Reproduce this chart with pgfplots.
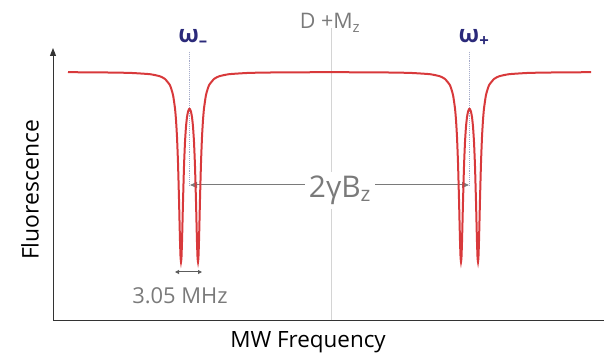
\documentclass[border=0pt]{standalone}
\usepackage{fontspec}
\setmainfont{Open Sans}
\usepackage{pgfplots}
\pgfplotsset{compat=1.18}
\usetikzlibrary{arrows.meta}
\definecolor{curve}{HTML}{D8393B}
\definecolor{txtgray}{HTML}{7A7A7A}
\definecolor{omega}{HTML}{2B2A7A}
\definecolor{dotc}{HTML}{A4AAC8}
\definecolor{cline}{HTML}{D4D4D4}
\definecolor{axc}{HTML}{333333}
\begin{document}
\begin{tikzpicture}
\path[use as bounding box] (0,0) rectangle (604bp,356bp);
\begin{axis}[
  at={(53bp,36bp)}, anchor=south west,
  scale only axis, width=551bp, height=272bp,
  xmin=53, xmax=604, ymin=0, ymax=272,
  axis lines=left, ticks=none, clip=false,
  x axis line style={-, draw=axc, line width=1bp},
  y axis line style={-{Triangle[length=8bp,width=6bp]}, draw=axc, line width=1bp},
]
% centre line D+Mz
\draw[cline, line width=1bp] (axis cs:331,0) -- (axis cs:331,292);
% dotted lines at the centres of the pairs
\draw[dotc, line width=0.9bp, densely dotted] (axis cs:189.5,268) -- (axis cs:189.5,135);
\draw[dotc, line width=0.9bp, densely dotted] (axis cs:469.5,268) -- (axis cs:469.5,135);
% 2 gamma B arrow
\draw[txtgray, line width=1bp, {Triangle[length=7bp,width=6bp]}-{Triangle[length=7bp,width=6bp]}] (axis cs:190,135) -- (axis cs:469,135);
\node[fill=white, text=txtgray, inner sep=4bp, anchor=base, font=\fontsize{30}{30}\selectfont] at (axis cs:340,122) {2γB\textsubscript{z}};
% curve
\addplot[curve, line width=2bp, smooth, tension=0.3] coordinates {
(68,247.8) (100,247.6) (130,247.1) (150,245.8) (160,243.7) (165,241.0) (170,234.7) (173,225.1) (175,211.6) (176,200.1) (177,183.0) (178,157.3) (179,120.7) (179.5,99.4) (180,79.1) (180.5,63.9) (181,58.0) (181.5,63.3) (182,77.9) (182.5,97.6) (183,118.3) (184,153.7) (185,178.0) (186,193.4) (187,202.9) (188,208.3) (189,210.8) (189.5,211.1) (190,210.8) (191,208.3) (192,202.9) (193,193.4) (194,178.0) (195,153.7) (196,118.3) (196.5,97.6) (197,77.9) (197.5,63.3) (198,58.0) (198.5,63.9) (199,79.1) (199.5,99.4) (200,120.7) (201,157.3) (202,183.0) (203,200.1) (204,211.6) (206,225.1) (209,234.7) (214,241.0) (219,243.7) (229,245.8) (249,247.1) (279,247.6) (329.5,247.8)
(380,247.6) (410,247.1) (430,245.8) (440,243.7) (445,241.0) (450,234.7) (453,225.1) (455,211.6) (456,200.1) (457,183.0) (458,157.3) (459,120.7) (459.5,99.4) (460,79.1) (460.5,63.9) (461,58.0) (461.5,63.3) (462,77.9) (462.5,97.6) (463,118.3) (464,153.7) (465,178.0) (466,193.4) (467,202.9) (468,208.3) (469,210.8) (469.5,211.1) (470,210.8) (471,208.3) (472,202.9) (473,193.4) (474,178.0) (475,153.7) (476,118.3) (476.5,97.6) (477,77.9) (477.5,63.3) (478,58.0) (478.5,63.9) (479,79.1) (479.5,99.4) (480,120.7) (481,157.3) (482,183.0) (483,200.1) (484,211.6) (486,225.1) (489,234.7) (494,241.0) (499,243.7) (509,245.8) (529,247.1) (559,247.6) (591,247.8)
};
% small double arrow and width label
\draw[axc!80, line width=1bp, {Triangle[length=4bp,width=4bp]}-{Triangle[length=4bp,width=4bp]}] (axis cs:175,48) -- (axis cs:202,48);
\node[text=txtgray, anchor=base, font=\fontsize{22}{22}\selectfont] at (axis cs:180,17) {3.05 MHz};
% top labels
\node[text=txtgray, anchor=base, font=\fontsize{21.5}{21.5}\selectfont] at (axis cs:330,291) {D +M\textsubscript{z}};
\node[text=omega, anchor=base, font=\bfseries\fontsize{24}{24}\selectfont] at (axis cs:193,277) {ω\textsubscript{–}};
\node[text=omega, anchor=base, font=\bfseries\fontsize{24}{24}\selectfont] at (axis cs:474,277) {ω\textsubscript{+}};
% axis labels
\node[text=black, anchor=base, font=\fontsize{22.5}{22.5}\selectfont] at (axis cs:308,-27) {MW Frequency};
\node[text=black, rotate=90, font=\fontsize{23}{23}\selectfont] at (axis cs:30,130) {Fluorescence};
\end{axis}
\end{tikzpicture}
\end{document}
